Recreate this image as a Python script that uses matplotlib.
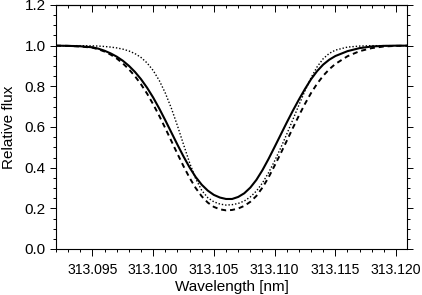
import matplotlib
matplotlib.use('Agg')
import matplotlib.pyplot as plt
from matplotlib.ticker import MultipleLocator, FormatStrFormatter

plt.rcParams['font.family'] = ['Liberation Sans', 'DejaVu Sans']

wave = [313.0920, 313.0930, 313.0940, 313.0950, 313.0955, 313.0960, 313.0965,
        313.0970, 313.0975, 313.0980, 313.0985, 313.0990, 313.0995, 313.1000,
        313.1005, 313.1010, 313.1015, 313.1020, 313.1025, 313.1030, 313.1035,
        313.1040, 313.1045, 313.1050, 313.1055, 313.1060, 313.1065, 313.1070,
        313.1075, 313.1080, 313.1085, 313.1090, 313.1095, 313.1100, 313.1105,
        313.1110, 313.1115, 313.1120, 313.1125, 313.1130, 313.1135, 313.1140,
        313.1145, 313.1150, 313.1160, 313.1170, 313.1180, 313.1190, 313.1200,
        313.1210]

# solid profile
flux_solid = [1.000, 0.999, 0.997, 0.992, 0.985, 0.975, 0.962,
              0.946, 0.926, 0.901, 0.871, 0.835, 0.793, 0.745,
              0.691, 0.633, 0.573, 0.513, 0.455, 0.401, 0.354,
              0.316, 0.287, 0.266, 0.253, 0.246, 0.246, 0.256,
              0.274, 0.302, 0.340, 0.388, 0.443, 0.502, 0.562,
              0.622, 0.680, 0.735, 0.787, 0.835, 0.875, 0.907,
              0.931, 0.949, 0.973, 0.988, 0.996, 0.999, 1.000,
              1.000]

# dashed profile
flux_dashed = [1.000, 0.999, 0.996, 0.990, 0.982, 0.971, 0.956,
               0.937, 0.913, 0.884, 0.850, 0.810, 0.764, 0.712,
               0.655, 0.594, 0.531, 0.468, 0.407, 0.350, 0.300,
               0.259, 0.228, 0.207, 0.195, 0.190, 0.192, 0.199,
               0.212, 0.232, 0.261, 0.302, 0.352, 0.410, 0.470,
               0.532, 0.595, 0.656, 0.714, 0.767, 0.813, 0.852,
               0.884, 0.910, 0.948, 0.973, 0.988, 0.996, 0.999,
               1.000]

# dotted profile
flux_dotted = [1.000, 1.000, 1.000, 0.999, 0.998, 0.996, 0.993,
               0.989, 0.983, 0.974, 0.961, 0.942, 0.915, 0.878,
               0.829, 0.767, 0.692, 0.606, 0.514, 0.424, 0.346,
               0.288, 0.252, 0.232, 0.221, 0.216, 0.218, 0.224,
               0.236, 0.256, 0.285, 0.325, 0.375, 0.433, 0.497,
               0.565, 0.636, 0.708, 0.778, 0.842, 0.896, 0.936,
               0.962, 0.978, 0.993, 0.998, 1.000, 1.000, 1.000,
               1.000]

xticks = [313.095, 313.100, 313.105, 313.110, 313.115, 313.120]
yticks = [0.0, 0.2, 0.4, 0.6, 0.8, 1.0, 1.2]

fig = plt.figure(figsize=(4.22, 2.95), dpi=100)
ax = fig.add_axes([56/422, 1-249/295, 351/422, 244/295])

ax.plot(wave, flux_solid, color='black', lw=1.5, ls='-')
ax.plot(wave, flux_dashed, color='black', lw=1.4, dashes=(2.6, 2.0))
ax.plot(wave, flux_dotted, color='black', lw=1.0, dashes=(1.0, 1.4))

ax.set_xlim(313.0920, 313.1209)
ax.set_ylim(0.0, 1.2)

ax.set_xticks(xticks)
ax.set_yticks(yticks)
ax.xaxis.set_major_formatter(FormatStrFormatter('%.3f'))
ax.yaxis.set_major_formatter(FormatStrFormatter('%.1f'))
ax.xaxis.set_minor_locator(MultipleLocator(0.001))
ax.yaxis.set_minor_locator(MultipleLocator(0.05))

# IDL style ticks
ax.tick_params(axis='both', which='both', direction='out', width=0.7,
               colors='black', pad=3)
ax.tick_params(axis='y', which='both', left=True, right=True, labelsize=11)
ax.tick_params(axis='x', which='major', length=5, pad=5, labelsize=10.1)
ax.tick_params(axis='x', which='minor', length=2.5)
ax.tick_params(axis='y', which='major', length=4.5)
ax.tick_params(axis='y', which='minor', length=2.5)

top = ax.secondary_xaxis('top')
top.set_xticks(xticks)
top.xaxis.set_minor_locator(MultipleLocator(0.001))
top.tick_params(which='both', direction='in', labeltop=False, width=0.7)
top.tick_params(which='major', length=5)
top.tick_params(which='minor', length=2.5)

for s in ax.spines.values():
    s.set_linewidth(0.8)
top.spines['top'].set_linewidth(0.8)

ax.set_xlabel('Wavelength [nm]', fontsize=11, labelpad=2)
ax.set_ylabel('Relative flux', fontsize=11)
ax.yaxis.set_label_coords(-0.113, 0.5)

fig.savefig('out.png', dpi=100)
